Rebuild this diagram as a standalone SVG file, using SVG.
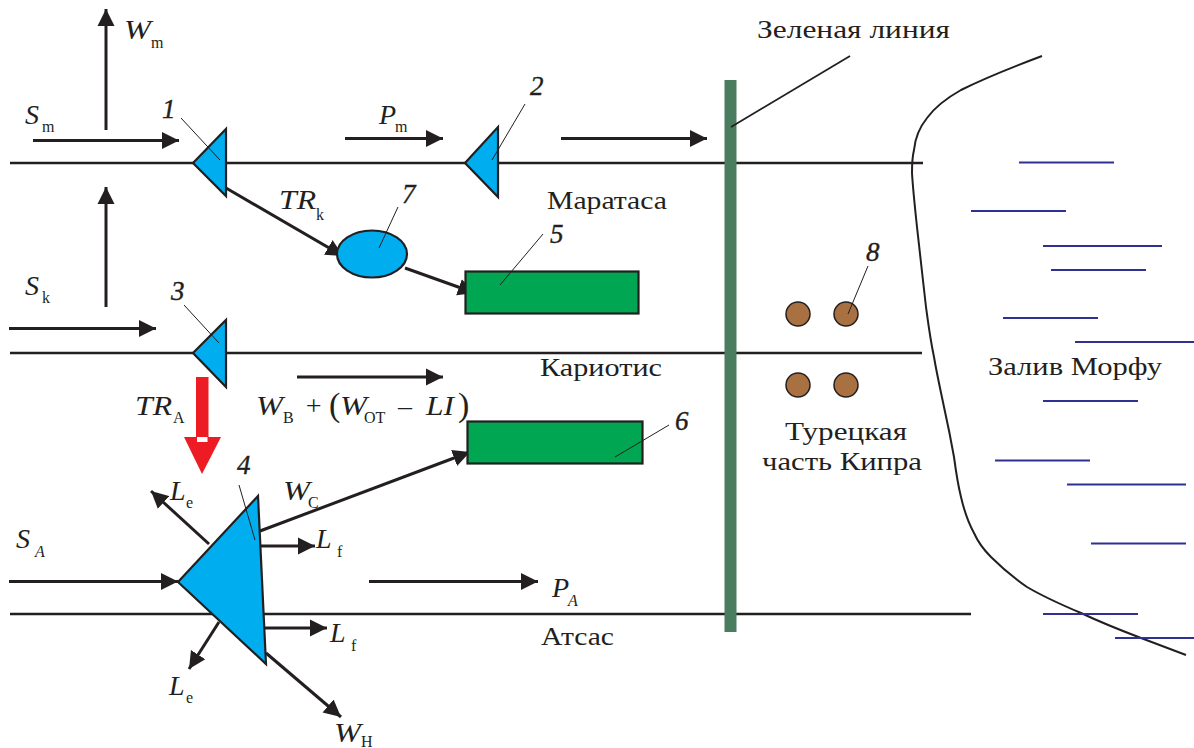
<svg xmlns="http://www.w3.org/2000/svg" width="1194" height="748" viewBox="0 0 1194 748">
<defs>
<marker id="a" markerUnits="userSpaceOnUse" markerWidth="18" markerHeight="18" refX="17" refY="9" orient="auto"><path d="M0,0.5 L17,9 L0,17.500Z" fill="#231f20"/></marker>
</defs>
<style>
text{font-family:"Liberation Serif","Times New Roman",serif;fill:#231f20}
.r{font-size:26px}
.v{font-size:28px;font-style:italic}
.s{font-size:16px}
.n{font-size:27px;font-style:italic;stroke:#231f20;stroke-width:.4}
.t{fill:none;stroke:#231f20;stroke-width:3;marker-end:url(#a)}
.h{fill:none;stroke:#231f20;stroke-width:2.400}
.l{fill:none;stroke:#231f20;stroke-width:1}
.w{fill:none;stroke:#2e3192;stroke-width:2}
.b{fill:#00aeef;stroke:#231f20;stroke-width:2.200}
.g{fill:#00a651;stroke:#231f20;stroke-width:2.200}
.o{fill:#a97142;stroke:#231f20;stroke-width:1.500}
</style>
<g id="roads">
<path class="h" d="M10,163H923M10,353H922M10,614H971"/>
</g>
<g id="green-line">
<rect x="724.500" y="80" width="12" height="552" fill="#4a7c5f"/>
<path d="M731,127L850,56" fill="none" stroke="#231f20" stroke-width="1.800"/>
<text class="r" x="757" y="38" textLength="193" lengthAdjust="spacingAndGlyphs">Зеленая линия</text>
</g>
<g id="coast"><path d="M1042,56C1010,68 985,78 961,90C945,99 935,107 927,118C919,128 915,139 914,150C912,158 912,165 912,173C913,190 915,208 917,227C920,255 923,280 926,307C928,322 930,338 934,357C937,375 941,392 944,407C948,425 951,440 954,457C956,472 958,485 961,497C964,510 968,522 974,533C978,542 984,550 991,557C1002,568 1014,578 1027,587C1044,597 1062,605 1081,613C1100,622 1120,630 1141,638L1186,655" fill="none" stroke="#231f20" stroke-width="2"/></g>
<g id="sea">
<path class="w" d="M1019,162.500H1114M971,211H1066M1043,246H1162M1051,270H1146M1003,318H1098M1075,342H1194M1043,401H1138M995,460.500H1090M1067,484.500H1186M1091,543.500H1186M1043,614H1138M1115,638H1194"/>
<text class="r" x="988" y="375" textLength="174" lengthAdjust="spacingAndGlyphs">Залив Морфу</text>
</g>
<g id="connectors">
<path class="t" d="M106,130V9"/>
<path class="t" d="M33,140.500H179"/>
<path class="t" d="M106,307V187"/>
<path class="t" d="M9,328.500H156"/>
<path class="t" d="M345,138.500H443"/>
<path class="t" d="M561,138.500H707"/>
<path class="t" d="M226,188L343,256"/>
<path class="t" d="M405,268L475,293"/>
<path class="t" d="M297,377H443"/>
<path class="t" d="M260,531L470,452"/>
<path class="t" d="M9,581.500H178"/>
<path class="t" d="M369,581.500H538"/>
<path class="t" d="M209,544L151,491"/>
<path class="t" d="M260,546H315"/>
<path class="t" d="M265,628H327"/>
<path class="t" d="M219,622L189,669"/>
<path class="t" d="M266,653L341,717"/>
</g>
<g id="node-1"><path class="b" d="M193,163L226,129V196Z"/><path class="l" d="M181,118L220,160"/><text class="n" x="162" y="118">1</text></g>
<g id="node-2"><path class="b" d="M465,163L498,127V197Z"/><path class="l" d="M525,104L492,160"/><text class="n" x="530" y="95">2</text></g>
<g id="node-3"><path class="b" d="M193,353L226,320V387Z"/><path class="l" d="M184,305L219,343"/><text class="n" x="171" y="300">3</text></g>
<g id="node-4"><path class="b" d="M178,582L258,496L266,664Z"/><path class="l" d="M239,485L255,540"/><text class="n" x="237" y="474">4</text></g>
<g id="node-5"><rect class="g" x="465.500" y="271.500" width="173" height="42"/><path class="l" d="M543,234L500,285"/><text class="n" x="550" y="243">5</text></g>
<g id="node-6"><rect class="g" x="467.500" y="421.500" width="175" height="42"/><path class="l" d="M669,425L615,457"/><text class="n" x="675" y="430">6</text></g>
<g id="node-7"><ellipse class="b" cx="372" cy="254" rx="35" ry="23.500"/><path class="l" d="M398,207L379,248"/><text class="n" x="402" y="203">7</text></g>
<g id="node-8"><circle class="o" cx="798" cy="314" r="12"/><circle class="o" cx="846" cy="314" r="12"/><circle class="o" cx="798" cy="385" r="12"/><circle class="o" cx="846" cy="385" r="12"/><path class="l" d="M868,266L848,314"/><text class="n" x="866" y="261">8</text></g>
<g id="red-arrow"><path d="M196,377H208.500V437H221L202,474L184,437H196Z" fill="#ed1c24"/><rect x="197" y="437" width="10.500" height="5" fill="#fff"/></g>
<g id="labels">
<text class="r" x="547" y="209" textLength="120" lengthAdjust="spacingAndGlyphs">Маратаса</text>
<text class="r" x="540" y="376" textLength="122" lengthAdjust="spacingAndGlyphs">Кариотис</text>
<text class="r" x="541" y="645" textLength="73" lengthAdjust="spacingAndGlyphs">Атсас</text>
<text class="r" x="785" y="440" textLength="122" lengthAdjust="spacingAndGlyphs">Турецкая</text>
<text class="r" x="762" y="470" textLength="160" lengthAdjust="spacingAndGlyphs">часть Кипра</text>
<text class="v" x="124" y="39" textLength="27" lengthAdjust="spacingAndGlyphs">W</text><text class="s" x="151" y="48">m</text>
<text class="v" x="25" y="124">S</text><text class="s" x="42" y="132">m</text>
<text class="v" x="379" y="124">P</text><text class="s" x="395" y="132">m</text>
<text class="v" x="279" y="209" textLength="37" lengthAdjust="spacingAndGlyphs">TR</text><text class="s" x="316" y="220">k</text>
<text class="v" x="25" y="295">S</text><text class="s" x="42" y="303">k</text>
<text class="v" x="135" y="415" textLength="37" lengthAdjust="spacingAndGlyphs">TR</text><text class="s" x="173" y="423">A</text>
<text class="v" x="256" y="415" textLength="27" lengthAdjust="spacingAndGlyphs">W</text><text class="s" x="283" y="423">В</text>
<text class="v" x="304" y="415" font-style="normal">+</text>
<text x="329" y="416" font-size="34">(</text>
<text class="v" x="340" y="415" textLength="27" lengthAdjust="spacingAndGlyphs">W</text><text class="s" x="364" y="423">ОТ</text>
<text class="v" x="398" y="415" font-style="normal">–</text>
<text class="v" x="426" y="415" textLength="28" lengthAdjust="spacingAndGlyphs">LI</text>
<text x="458" y="416" font-size="34">)</text>
<text class="v" x="170" y="500">L</text><text class="s" x="186" y="508">e</text>
<text class="v" x="283" y="500" textLength="27" lengthAdjust="spacingAndGlyphs">W</text><text class="s" x="308" y="508">С</text>
<text class="v" x="316" y="548">L</text><text class="s" x="337" y="557">f</text>
<text class="v" x="330" y="642">L</text><text class="s" x="351" y="651">f</text>
<text class="v" x="169" y="695">L</text><text class="s" x="186" y="703">e</text>
<text class="v" x="334" y="742" textLength="27" lengthAdjust="spacingAndGlyphs">W</text><text class="s" x="361" y="747">Н</text>
<text class="v" x="16" y="548">S</text><text class="s" x="35" y="557" font-style="italic">A</text>
<text class="v" x="552" y="597">P</text><text class="s" x="568" y="606" font-style="italic">A</text>
</g>
</svg>
